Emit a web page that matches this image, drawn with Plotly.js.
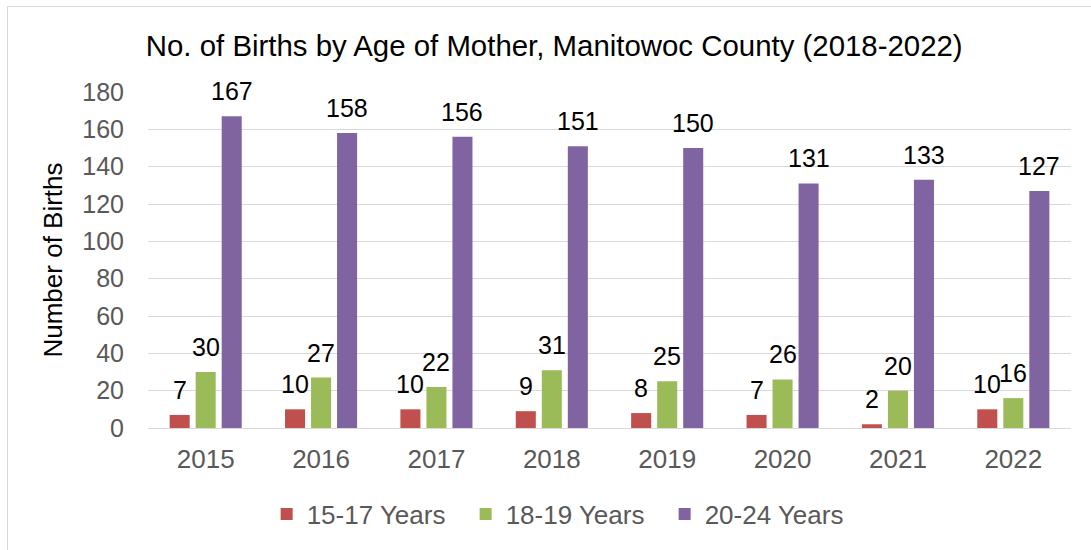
<!DOCTYPE html>
<html>
<head>
<meta charset="utf-8">
<script src="https://cdn.plot.ly/plotly-3.0.1.min.js"></script>
<style>
  html, body { margin: 0; padding: 0; background: #fff; }
  #wrap { position: relative; width: 1091px; height: 550px; overflow: hidden; }
  #chart { width: 1091px; height: 550px; }
  #frame { position: absolute; left: 7px; top: 6px; width: 1100px; height: 600px;
           border: 1px solid #d9d9d9; pointer-events: none; box-sizing: border-box; }
</style>
</head>
<body>
<div id="wrap">
  <div id="chart"></div>
  <div id="frame"></div>
</div>
<script>
const years = ['2015', '2016', '2017', '2018', '2019', '2020', '2021', '2022'];
const seriesNames = ['15-17 Years', '18-19 Years', '20-24 Years'];
const births15to17 = [7, 10, 10, 9, 8, 7, 2, 10];
const births18to19 = [30, 27, 22, 31, 25, 26, 20, 16];
const births20to24 = [167, 158, 156, 151, 150, 131, 133, 127];
const yTicks = [0, 20, 40, 60, 80, 100, 120, 140, 160, 180];

const colors = ['#C0504D', '#9BBB59', '#8064A2'];
const seriesValues = [births15to17, births18to19, births20to24];

const W = 1091, H = 550;
const margin = { l: 148, r: 20, t: 92, b: 122 };
const bargap = 0.3235;
const bargroupgap = 0.23;
const FONT = 'Liberation Sans, Arial, sans-serif';

// horizontal offset of each series inside a category group (derived from layout)
const catWidth = (W - margin.l - margin.r) / years.length;
const slot = (1 - bargap) * catWidth / seriesValues.length;

const traces = seriesValues.map((vals, i) => ({
  type: 'bar',
  name: seriesNames[i],
  x: years,
  y: vals,
  marker: { color: colors[i] },
  hoverinfo: 'x+y+name'
}));

// data labels: category serial index on the category axis, value on y
const annotations = [];
seriesValues.forEach((vals, i) => {
  vals.forEach((v, j) => {
    annotations.push({
      x: j, y: v, xref: 'x', yref: 'y',
      text: String(v), showarrow: false,
      xanchor: 'center', yanchor: 'bottom',
      xshift: (i - (seriesValues.length - 1) / 2) * slot,
      yshift: 9,
      font: { family: FONT, size: 25, color: '#000000' }
    });
  });
});

const layout = {
  width: W,
  height: H,
  paper_bgcolor: '#ffffff',
  plot_bgcolor: '#ffffff',
  font: { family: FONT, size: 25, color: '#595959' },
  margin: margin,
  barmode: 'group',
  bargap: bargap,
  bargroupgap: bargroupgap,
  title: {
    text: 'No. of Births by Age of Mother, Manitowoc County (2018-2022)',
    font: { family: FONT, size: 29.4, color: '#000000' },
    xref: 'container', yref: 'container',
    x: 0.508, xanchor: 'center',
    y: 1 - 46 / 550, yanchor: 'middle'
  },
  xaxis: {
    type: 'category',
    categoryorder: 'array',
    categoryarray: years,
    range: [-0.5, years.length - 0.5],
    showgrid: false,
    showline: true,
    linecolor: '#d9d9d9',
    linewidth: 1,
    ticks: '',
    tickfont: { family: FONT, size: 26, color: '#595959' },
    ticklabelstandoff: 8,
    zeroline: false
  },
  yaxis: {
    range: [0, 180],
    tickvals: yTicks,
    ticktext: yTicks.map(String),
    showgrid: true,
    gridcolor: '#d9d9d9',
    gridwidth: 1,
    showline: false,
    zeroline: false,
    ticks: '',
    tickfont: { family: FONT, size: 25, color: '#595959' },
    ticklabelstandoff: 23,
    title: {
      text: 'Number of Births',
      font: { family: FONT, size: 26, color: '#000000' },
      standoff: 12
    }
  },
  legend: {
    orientation: 'h',
    xref: 'container', yref: 'container',
    x: 0.518, xanchor: 'center',
    y: 1 - 514 / 550, yanchor: 'middle',
    font: { family: FONT, size: 26, color: '#595959' },
    itemwidth: 30,
    entrywidth: 154,
    entrywidthmode: 'pixels',
    traceorder: 'normal'
  },
  annotations: annotations,
  showlegend: true
};

Plotly.newPlot('chart', traces, layout, { displayModeBar: false });
</script>
</body>
</html>
